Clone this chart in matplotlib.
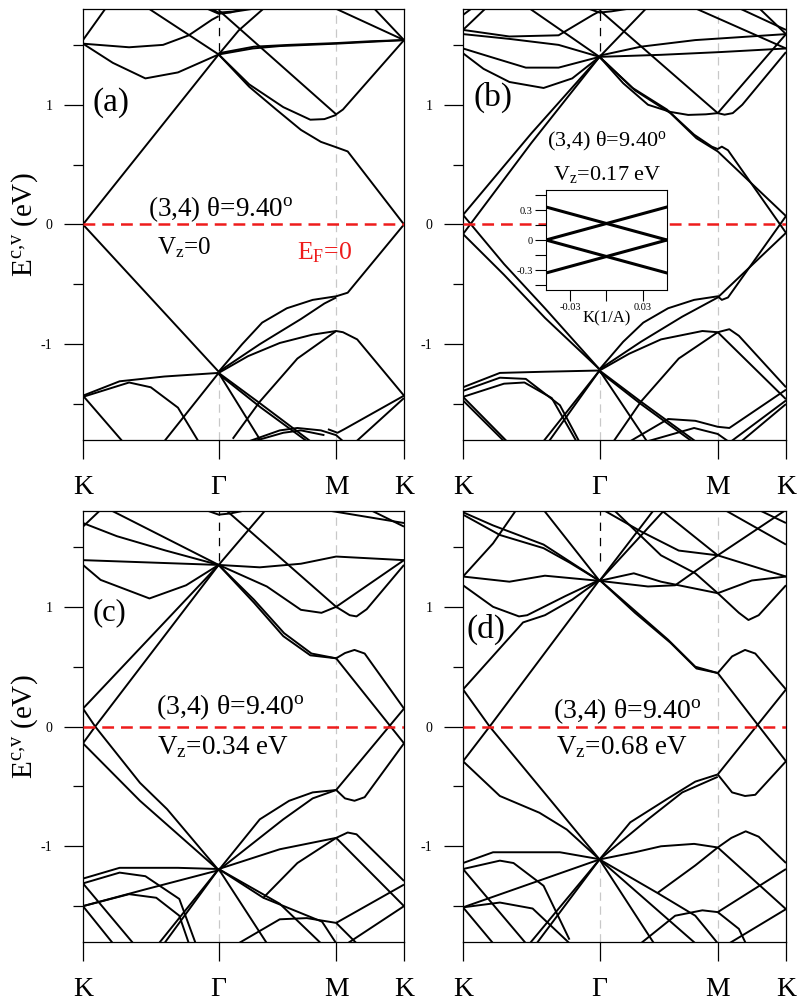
import numpy as np
import matplotlib.pyplot as plt
from matplotlib.ticker import FixedLocator

plt.rcParams['font.family'] = ['Liberation Serif', 'DejaVu Serif']
plt.rcParams['mathtext.fontset'] = 'custom'
plt.rcParams['mathtext.rm'] = 'Liberation Serif'
plt.rcParams['mathtext.it'] = 'Liberation Serif:italic'
plt.rcParams['lines.scale_dashes'] = False

# K - Gamma - M - K path (hexagonal zone segment lengths)
k_nodes = np.cumsum([0, 4/3, 2/np.sqrt(3), 2/3])
k_names = ['K', 'Γ', 'M', 'K']
seg_idx = [0, 1, 2, 3]

# bands: (position along path in segment units, energy in eV)
bands_a = [
    ([0, 1], [0, 1.42]),
    ([0, 1], [0, -1.23]),
    ([1, 1.26, 1.49, 1.70, 1.87, 2.0, 2.17, 3], [1.42, 1.15, 0.96, 0.79, 0.69, 0.645, 0.61, 0]),
    ([1, 1.26, 1.55, 1.78, 1.9, 2.0], [1.42, 1.17, 0.98, 0.875, 0.88, 0.915]),
    ([1, 1.2, 1.37, 1.58, 1.8, 2.0, 2.17, 3], [-1.23, -1.0, -0.82, -0.7, -0.63, -0.6, -0.57, 0]),
    ([1, 1.35, 1.7, 1.9, 2.0], [-1.23, -1.0, -0.79, -0.66, -0.61]),
    ([1, 1.25, 1.52, 1.8, 2.0, 2.1, 2.31, 3], [-1.24, -1.1, -0.99, -0.92, -0.89, -0.9, -0.96, -1.43]),
    ([1.12, 1.35, 1.67, 2.0], [-1.79, -1.48, -1.12, -0.89]),
    ([0, 0.27, 0.6, 1.0], [-1.43, -1.31, -1.27, -1.24]),
    ([0, 0.34, 0.5, 0.7, 0.85], [-1.44, -1.32, -1.36, -1.53, -1.81]),
    ([0, 0.29], [-1.43, -1.81]),
    ([0.6, 1.0], [-1.81, -1.24]),
    ([1, 1.36, 1.78], [-1.24, -1.5, -1.81]),
    ([1, 1.36, 1.75], [-1.25, -1.53, -1.81]),
    ([1, 1.36], [-1.24, -1.81]),
    ([1.26, 1.52, 1.67, 1.87, 2.0, 2.1], [-1.81, -1.72, -1.7, -1.72, -1.76, -1.81]),
    ([1.3, 1.55, 1.7, 1.9], [-1.81, -1.74, -1.72, -1.76]),
    ([1.93, 2.02, 2.12, 3], [-1.71, -1.74, -1.71, -1.43]),
    ([2.3, 3], [-1.81, -1.45]),
    ([0, 0.17], [1.54, 1.81]),
    ([0, 0.34, 0.59, 0.78, 0.95, 1.0], [1.51, 1.48, 1.5, 1.58, 1.71, 1.74]),
    ([0, 0.22, 0.46, 0.7, 1.0], [1.51, 1.35, 1.22, 1.27, 1.42]),
    ([0.475, 1.0], [1.81, 1.42]),
    ([1.0, 2.0, 2.1, 3.0], [1.79, 0.92, 0.96, 1.54]),
    ([1, 1.17, 1.39], [1.42, 1.62, 1.81]),
    ([1, 1.29, 1.52, 2.0, 2.5, 3], [1.42, 1.47, 1.49, 1.51, 1.525, 1.54]),
    ([1, 1.3, 1.6, 2.0, 2.5, 3], [1.43, 1.485, 1.50, 1.515, 1.53, 1.54]),
    ([1.98, 3], [1.81, 1.54]),
    ([2.55, 3], [1.81, 1.54]),
    ([0.9, 1.0, 1.1, 1.25], [1.81, 1.76, 1.77, 1.81]),
    ([0.93, 1.0, 1.15, 1.35], [1.81, 1.77, 1.78, 1.81]),
]

bands_b = [
    ([0, 0.5, 1], [0.08, 0.76, 1.40]),
    ([0, 0.5, 1], [-0.08, 0.68, 1.40]),
    ([0, 0.3, 0.6, 1], [0.08, -0.33, -0.7, -1.21]),
    ([0, 0.3, 0.6, 1], [-0.08, -0.42, -0.78, -1.21]),
    ([1, 1.28, 1.57, 1.8, 1.95, 2.0, 2.06, 2.15, 3], [1.40, 1.14, 0.96, 0.75, 0.65, 0.63, 0.65, 0.62, -0.07]),
    ([1, 1.3, 1.6, 1.82, 2.0, 3], [1.40, 1.12, 0.93, 0.72, 0.61, 0.07]),
    ([1, 1.2, 1.41, 1.6, 1.75, 1.9, 2.0], [1.40, 1.18, 1.0, 0.94, 0.915, 0.92, 0.93]),
    ([2.0, 2.1, 2.22, 2.36, 3.0], [0.93, 0.917, 0.93, 1.0, 1.44]),
    ([1.0, 2.0, 3.0], [1.79, 0.93, 1.59]),
    ([1, 1.2, 1.37, 1.58, 1.8, 2.0, 2.06, 2.15, 3], [-1.21, -0.98, -0.82, -0.7, -0.63, -0.6, -0.63, -0.61, 0.07]),
    ([1, 1.35, 1.7, 2.0, 3], [-1.21, -0.98, -0.77, -0.61, -0.07]),
    ([1, 1.25, 1.52, 1.87, 2.0, 2.17, 2.31, 3], [-1.22, -1.08, -0.96, -0.89, -0.9, -0.875, -0.93, -1.36]),
    ([2.0, 3], [-0.9, -1.46]),
    ([1.12, 1.35, 1.67, 2.0], [-1.81, -1.48, -1.12, -0.9]),
    ([0, 0.27, 0.6, 1], [-1.36, -1.24, -1.23, -1.22]),
    ([0, 0.27, 0.46, 0.71, 0.85], [-1.39, -1.28, -1.29, -1.51, -1.81]),
    ([0, 0.3, 0.45, 0.65, 0.83], [-1.44, -1.33, -1.32, -1.45, -1.81]),
    ([0, 0.32], [-1.44, -1.81]),
    ([0, 0.3], [-1.47, -1.81]),
    ([0.59, 1], [-1.81, -1.22]),
    ([0.63, 1], [-1.81, -1.22]),
    ([1, 1.35, 1.81], [-1.22, -1.48, -1.81]),
    ([1, 1.35, 1.78], [-1.23, -1.5, -1.81]),
    ([1, 1.4], [-1.22, -1.81]),
    ([1.26, 1.58, 1.81, 2.0, 2.17, 3], [-1.81, -1.625, -1.64, -1.69, -1.70, -1.38]),
    ([1.41, 1.8, 2.0, 2.15], [-1.81, -1.7, -1.75, -1.81]),
    ([2.2, 3], [-1.81, -1.47]),
    ([2.35, 3], [-1.81, -1.5]),
    ([0, 0.15, 0.34, 0.59, 0.8, 1], [1.43, 1.3, 1.19, 1.14, 1.22, 1.40]),
    ([0, 0.2, 0.46, 0.7, 1], [1.47, 1.4, 1.31, 1.31, 1.40]),
    ([0, 0.34, 0.7, 1], [1.59, 1.55, 1.5, 1.40]),
    ([0, 0.34, 0.7, 0.95, 1.0], [1.625, 1.57, 1.58, 1.75, 1.78]),
    ([0, 0.17], [1.625, 1.81]),
    ([0, 0.07], [1.75, 1.81]),
    ([0.48, 1.0], [1.81, 1.40]),
    ([1, 1.52, 2.04, 3], [1.40, 1.417, 1.44, 1.47]),
    ([1, 1.35, 1.81, 3], [1.41, 1.485, 1.54, 1.59]),
    ([1, 1.4], [1.40, 1.81]),
    ([0.9, 1.0, 1.1, 1.3], [1.81, 1.77, 1.78, 1.81]),
    ([1.8, 3], [1.81, 1.47]),
    ([2.3, 3], [1.81, 1.625]),
    ([2.6, 3], [1.81, 1.59]),
]

bands_c = [
    ([0, 1], [0.15, 1.35]),
    ([0, 0.09, 1], [-0.14, 0.0, 1.35]),
    ([0, 0.09, 0.42, 0.62, 1], [0.15, 0, -0.47, -0.69, -1.2]),
    ([0, 0.42, 1], [-0.14, -0.62, -1.2]),
    ([1, 1.3, 1.557, 1.79, 2], [1.35, 1.06, 0.78, 0.61, 0.57]),
    ([1, 1.3, 1.55, 1.78, 2], [1.35, 1.035, 0.755, 0.595, 0.57]),
    ([2, 2.13, 2.27, 2.42, 3], [0.57, 0.614, 0.64, 0.61, 0.15]),
    ([2, 3], [0.57, -0.14]),
    ([1, 1.35, 1.6, 1.8, 2], [-1.2, -0.775, -0.62, -0.55, -0.53]),
    ([1, 1.55, 1.8, 2], [-1.2, -0.775, -0.6, -0.53]),
    ([2, 2.13, 2.27, 2.42, 3], [-0.53, -0.6, -0.62, -0.59, -0.14]),
    ([2, 3], [-0.53, 0.15]),
    ([1, 1.52, 2, 2.17, 2.3, 3], [-1.19, -1.025, -0.93, -0.885, -0.9, -1.29]),
    ([1, 1.38, 1.67, 2], [-1.19, -1.43, -1.14, -0.93]),
    ([2, 3], [-0.93, -1.5]),
    ([0, 0.27, 0.7, 1], [-1.27, -1.18, -1.18, -1.19]),
    ([0, 0.27, 0.46, 0.71, 0.83], [-1.31, -1.22, -1.25, -1.44, -1.81]),
    ([0, 0.34, 0.54, 0.71, 0.78], [-1.5, -1.4, -1.43, -1.58, -1.81]),
    ([0, 0.46, 1], [-1.5, -1.36, -1.2]),
    ([0, 0.37], [-1.31, -1.81]),
    ([0, 0.22], [-1.5, -1.81]),
    ([0.56, 1], [-1.81, -1.19]),
    ([0.6, 1], [-1.81, -1.19]),
    ([1, 1.41], [-1.19, -1.81]),
    ([1, 1.52, 1.87], [-1.19, -1.48, -1.81]),
    ([1.17, 1.52, 1.75, 2, 2.3], [-1.81, -1.61, -1.6, -1.64, -1.81]),
    ([1.38, 1.88, 2.0], [-1.43, -1.63, -1.81]),
    ([2, 3], [-1.64, -1.32]),
    ([2.17, 3], [-1.81, -1.5]),
    ([0, 0.13, 0.49, 0.76, 1], [1.35, 1.225, 1.07, 1.18, 1.35]),
    ([0, 0.5, 1], [1.39, 1.37, 1.35]),
    ([0, 0.25, 0.61, 1], [1.70, 1.59, 1.47, 1.35]),
    ([0, 0.13], [1.67, 1.81]),
    ([0.2, 1], [1.81, 1.35]),
    ([1, 1.35, 1.7, 2, 3], [1.35, 1.33, 1.36, 1.42, 1.39]),
    ([1, 1.41, 1.7, 1.875, 2], [1.35, 1.17, 0.975, 0.95, 1.0]),
    ([1.06, 2], [1.81, 1.0]),
    ([2, 3], [1.0, 1.39]),
    ([2, 2.2, 2.3, 2.45, 3], [1.0, 0.93, 0.92, 0.98, 1.35]),
    ([1, 1.4], [1.35, 1.81]),
    ([1.9, 3], [1.81, 1.70]),
    ([2.5, 3], [1.81, 1.67]),
    ([0.9, 1.0, 1.1, 1.25], [1.81, 1.77, 1.78, 1.81]),
]

bands_d = [
    ([0, 0.44, 0.6, 0.8, 1], [0.31, 0.87, 0.93, 1.06, 1.225]),
    ([0, 0.22, 0.41, 0.47, 0.75, 1], [1.18, 1.0, 0.92, 0.93, 1.09, 1.225]),
    ([0, 0.195, 1], [-0.29, 0.0, 1.225]),
    ([0, 0.195, 1], [0.31, 0.0, -1.11]),
    ([0, 0.27, 0.56, 0.76, 1], [-0.29, -0.58, -0.72, -0.86, -1.11]),
    ([1, 1.29, 1.58, 1.81, 2], [1.225, 0.975, 0.725, 0.50, 0.447]),
    ([1, 1.3, 1.6, 1.82, 2], [1.225, 0.95, 0.70, 0.485, 0.447]),
    ([2, 2.21, 2.40, 2.55, 3], [0.447, 0.586, 0.64, 0.61, 0.31]),
    ([2, 3], [0.447, -0.29]),
    ([1, 1.26, 1.58, 1.81, 2], [-1.11, -0.8, -0.6, -0.46, -0.40]),
    ([1, 1.41, 1.7, 2], [-1.11, -0.775, -0.55, -0.42]),
    ([2, 2.21, 2.4, 2.55, 3], [-0.40, -0.55, -0.58, -0.57, -0.29]),
    ([2, 3], [-0.40, 0.31]),
    ([1, 1.3, 1.52, 1.8, 2, 2.2, 2.41, 2.6, 3], [-1.11, -1.05, -1.0, -0.98, -1.01, -0.93, -0.875, -0.92, -1.14]),
    ([1, 1.49, 1.81, 2], [-1.11, -1.39, -1.16, -1.01]),
    ([2, 3], [-1.01, -1.525]),
    ([0, 0.22, 0.71, 1], [-1.14, -1.05, -1.05, -1.108]),
    ([0, 0.27, 0.37, 0.59, 0.78], [-1.19, -1.12, -1.14, -1.33, -1.78]),
    ([0, 1], [-1.51, -1.11]),
    ([0, 0.27, 0.51, 0.78], [-1.51, -1.47, -1.52, -1.81]),
    ([0, 0.46], [-1.19, -1.81]),
    ([0, 0.22], [-1.51, -1.81]),
    ([0.49, 1], [-1.81, -1.11]),
    ([0.54, 1], [-1.81, -1.11]),
    ([1, 1.46], [-1.11, -1.81]),
    ([1, 1.81], [-1.11, -1.81]),
    ([1.35, 1.64, 1.87, 2, 2.31, 2.41], [-1.81, -1.58, -1.535, -1.55, -1.69, -1.81]),
    ([1.49, 1.81, 2.0], [-1.39, -1.58, -1.81]),
    ([2, 3], [-1.55, -1.19]),
    ([2.17, 3], [-1.81, -1.525]),
    ([0, 0.22, 0.59, 1], [1.79, 1.68, 1.52, 1.217]),
    ([0, 0.27, 0.59, 0.78, 1], [1.77, 1.6, 1.49, 1.37, 1.217]),
    ([0, 0.22, 0.39], [1.253, 1.53, 1.81]),
    ([0, 0.34, 0.6, 1], [1.253, 1.21, 1.26, 1.217]),
    ([0.59, 1], [1.81, 1.217]),
    ([1, 1.29, 1.52, 2, 2.5, 3], [1.217, 1.28, 1.21, 1.114, 1.22, 1.253]),
    ([1, 1.41, 1.64, 2, 3], [1.217, 1.17, 1.18, 1.43, 1.81]),
    ([2, 2.31, 2.45, 2.6, 3], [1.114, 0.95, 0.89, 0.93, 1.18]),
    ([1.52, 2.0, 3.0], [1.81, 1.43, 1.253]),
    ([1.03, 1.35, 1.67, 2.0], [1.81, 1.63, 1.47, 1.43]),
    ([1.12, 1.52, 1.81, 2.0], [1.81, 1.43, 1.28, 1.114]),
    ([1, 1.46], [1.217, 1.81]),
    ([1, 1.55], [1.217, 1.81]),
    ([2.1, 3], [1.81, 1.52]),
    ([2.6, 3], [1.81, 1.7]),
]

# inset of (b): bands near K, k in 1/A
inset_k = [-0.05, 0.05]
inset_bands = [[0.33, 0.0], [0.0, 0.33], [-0.33, 0.0], [0.0, -0.33]]

panel_bands = [bands_a, bands_b, bands_c, bands_d]
panel_tags = ['(a)', '(b)', '(c)', '(d)']
vz_text = [r'V$_{\mathrm{z}}$=0', r'V$_{\mathrm{z}}$=0.17 eV', r'V$_{\mathrm{z}}$=0.34 eV', r'V$_{\mathrm{z}}$=0.68 eV']
gamma_top = [1.45, 1.45, 1.38, 1.38]
gamma_low = [-1.24, -1.22, -1.2, -1.11]

# layout (figure fractions) and text placement
rects = [[0.1032, 0.5631, 0.3993, 0.428], [0.5759, 0.5631, 0.4017, 0.428],
         [0.1032, 0.0645, 0.3993, 0.428], [0.5759, 0.0645, 0.4017, 0.428]]
tag_pos = [(0.03, 1.02, 24), (0.031, 1.06, 24), (0.03, 0.95, 22), (0.012, 0.81, 24)]
title_pos = [(0.43, 0.13, 19.5), (0.446, 0.69, 16), (0.458, 0.16, 20), (0.508, 0.125, 20)]
vz_pos = [(0.23, -0.19, 18, 'left'), (0.446, 0.42, 16, 'center'),
          (0.436, -0.175, 19.5, 'center'), (0.492, -0.175, 19.5, 'center')]

fig = plt.figure(figsize=(8.04, 10.07), dpi=100)

for i in range(4):
    ax = fig.add_axes(rects[i])
    for s, e in panel_bands[i]:
        ax.plot(np.interp(s, seg_idx, k_nodes), e, color='black', lw=1.4, solid_capstyle='butt')
    ax.axvline(k_nodes[2], color='#c8c8c8', lw=0.9, dashes=(6, 4), zorder=0)
    ax.plot([k_nodes[1], k_nodes[1]], [-1.8, gamma_low[i]], color='#c8c8c8', lw=0.9, dashes=(6, 4), zorder=0)
    ax.plot([k_nodes[1], k_nodes[1]], [gamma_top[i], 1.8], color='black', lw=0.9, dashes=(6, 5))
    ax.axhline(0, color='#ee1c1c', lw=1.8, dashes=(8.5, 5), zorder=3)

    ax.set_xlim(k_nodes[0], k_nodes[-1])
    ax.set_ylim(-1.8, 1.8)
    ax.set_xticks(k_nodes)
    ax.set_xticklabels(k_names)
    ax.set_yticks([-1, 0, 1])
    ax.set_yticklabels(['-1', '0', '1'])
    ax.yaxis.set_minor_locator(FixedLocator([-1.5, -0.5, 0.5, 1.5]))
    ax.tick_params(axis='x', direction='out', length=14, width=0.9, labelsize=20, pad=11)
    ax.tick_params(axis='y', which='major', direction='out', length=14, width=0.9, labelsize=10, pad=8)
    ax.tick_params(axis='y', which='minor', direction='out', length=7, width=0.9)
    for sp in ax.spines.values():
        sp.set_linewidth(0.9)

    tr = ax.get_yaxis_transform()
    x, y, fs = tag_pos[i]
    ax.text(x, y, panel_tags[i], transform=tr, fontsize=fs, ha='left', va='center')
    x, y, fs = title_pos[i]
    ax.text(x, y, r'(3,4) θ=9.40$^{\mathrm{o}}$', transform=tr, fontsize=fs, ha='center', va='center')
    x, y, fs, ha = vz_pos[i]
    ax.text(x, y, vz_text[i], transform=tr, fontsize=fs, ha=ha, va='center')
    if i == 0:
        ax.text(0.667, -0.235, r'E$_{\mathrm{F}}$=0', transform=tr, fontsize=18.5,
                color='#ee1c1c', ha='left', va='center')
    if i in (0, 2):
        ax.set_ylabel(r'E$^{\mathrm{c{,}v}}$ (eV)', fontsize=21)
        ax.yaxis.set_label_coords(-0.135, 0.5)

# inset in panel (b)
axi = fig.add_axes([546/804, (1007-290)/1007, 121/804, 100/1007])
axi.set_facecolor('white')
for e in inset_bands:
    axi.plot(inset_k, e, color='black', lw=2.2)
axi.set_xlim(-0.05, 0.05)
axi.set_ylim(-0.5, 0.5)
axi.set_xticks([-0.03, 0, 0.03])
axi.set_xticklabels(['-0.03', '', '0.03'])
axi.set_yticks([-0.3, 0, 0.3])
axi.set_yticklabels(['-0.3', '0', '0.3'])
axi.yaxis.set_minor_locator(FixedLocator([-0.45, -0.15, 0.15, 0.45]))
axi.tick_params(axis='both', which='major', direction='out', length=8, width=0.8, labelsize=7.5, pad=1.5)
axi.tick_params(axis='y', which='minor', direction='out', length=8, width=0.8)
axi.set_xlabel('K(1/A)', fontsize=12, labelpad=-1)
for sp in axi.spines.values():
    sp.set_linewidth(0.8)

fig.savefig('out.png', dpi=100)
